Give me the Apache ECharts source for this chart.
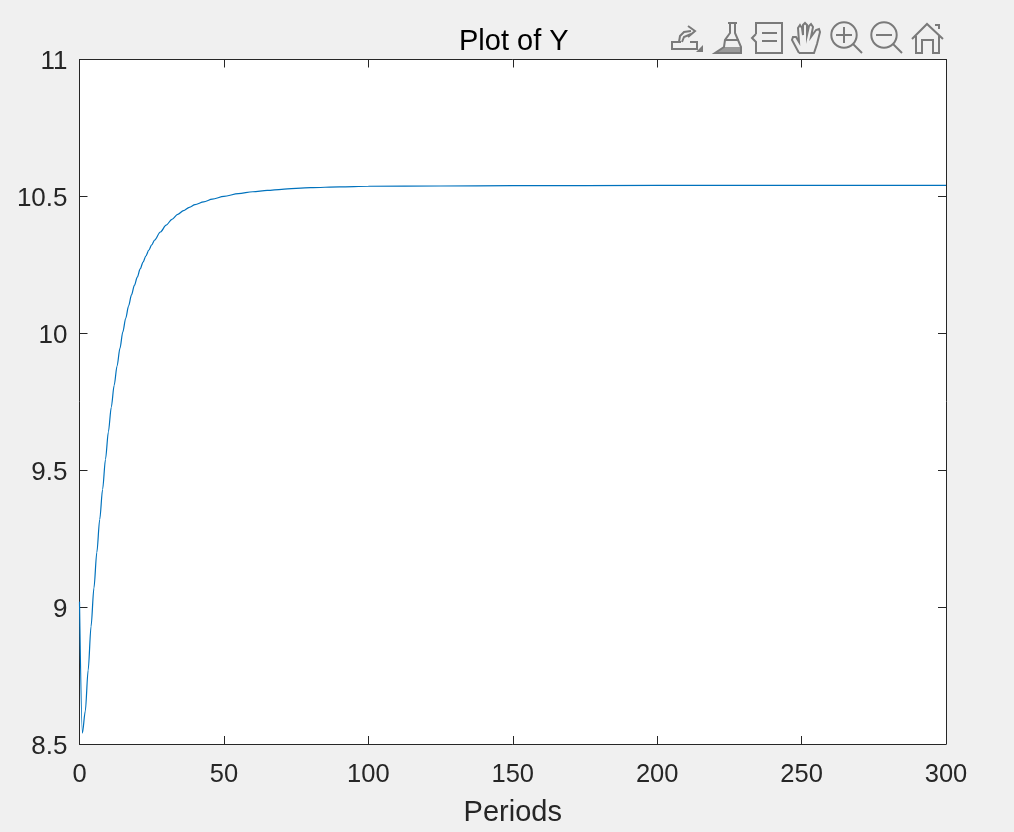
<!DOCTYPE html>
<html>
<head>
<meta charset="utf-8">
<style>html,body{margin:0;padding:0;background:#f0f0f0}#c{width:1014px;height:832px}</style>
<script src="https://cdn.jsdelivr.net/npm/echarts@6/dist/echarts.min.js"></script>
</head>
<body>
<div id="c"></div>
<script>
const periods = [0,1,2,3,4,5,6,7,8,9,10,11,12,13,14,15,16,17,18,19,20,21,22,23,24,25,26,28,30,32,34,36,38,40,43,46,50,55,60,65,70,80,90,100,125,150,200,300];
const yValues = [9.02,8.54,8.62,8.77,8.93,9.07,9.2,9.32,9.43,9.54,9.64,9.73,9.81,9.88,9.945,10.005,10.055,10.10,10.14,10.175,10.205,10.235,10.26,10.283,10.304,10.323,10.34,10.37,10.395,10.416,10.434,10.448,10.46,10.47,10.48,10.49,10.50,10.51,10.517,10.522,10.526,10.532,10.535,10.537,10.538,10.539,10.54,10.54];
const titleText = 'Plot of Y';
const xLabel = 'Periods';

const ink = '#262626', font = '"Liberation Sans", Arial, sans-serif';
const chart = echarts.init(document.getElementById('c'), null, {renderer:'canvas'});

const iconStyle = {fill:'none', stroke:'#7a7a7a', lineWidth:2};
const lines = [
 [[681,42],[672,42],[672,49],[697,49],[697,42],[690,42]],
 [[679,42],[680,36],[684,32],[691,31]],[[682,42],[684,37],[691,34]],[[688,26],[695,31],[688,37]],
 [[728,23],[737,23]],[[730,23],[730,33],[725,40],[724,47],[715,53],[741,53],[741,47],[735,33],[735,23]],[[725,40],[739,40]],
 [[756,34],[756,23],[782,23],[782,53],[756,53],[756,42],[752,38],[756,34]],[[762,33],[777,33]],[[762,41],[777,41]],
 [[799,53],[792,40],[793,37],[796,37],[799,42],[798,28],[800,25],[802,28],[803,35],[803,25],[805,23],[807,25],[807,35],[809,26],[811,24],[813,27],[811,37],[816,30],[819,29],[820,32],[817,44],[814,53],[799,53]],
 [[853,44],[862,53]],[[836,35],[852,35]],[[844,27],[844,43]],
 [[893,44],[902,53]],[[876,35],[892,35]],
 [[912,39],[927,24],[943,39]],[[916,36],[916,53],[922,53],[922,40],[933,40],[933,53],[939,53],[939,36]],[[935,25],[939,25],[939,29]]
];
const rings = [[844,35],[884,35]];

chart.setOption({
  animation:false,
  backgroundColor:'#f0f0f0',
  title:{text:titleText,left:454,top:22,
    textStyle:{fontFamily:font,fontSize:29,fontWeight:'normal',color:'#000'}},
  grid:{left:79.5,right:68,top:59.5,bottom:88,containLabel:false,show:true,backgroundColor:'#fff',borderWidth:0},
  xAxis:[
   {type:'value',min:0,max:300,interval:50,name:xLabel,nameLocation:'middle',nameGap:54,
    nameTextStyle:{fontFamily:font,fontSize:29,color:ink},
    axisLine:{show:true,onZero:false,lineStyle:{color:ink,width:1}},
    axisTick:{inside:true,length:8,lineStyle:{color:ink}},
    axisLabel:{fontFamily:font,fontSize:25.5,color:ink,margin:18,showMinLabel:true,showMaxLabel:true},
    splitLine:{show:false}},
   {type:'value',position:'top',min:0,max:300,interval:50,
    axisLine:{show:true,onZero:false,lineStyle:{color:ink,width:1}},
    axisTick:{inside:true,length:8,lineStyle:{color:ink}},
    axisLabel:{show:false},splitLine:{show:false}}
  ],
  yAxis:[
   {type:'value',min:8.5,max:11,interval:0.5,
    axisLine:{show:true,onZero:false,lineStyle:{color:ink,width:1}},
    axisTick:{inside:true,length:8,lineStyle:{color:ink}},
    axisLabel:{fontFamily:font,fontSize:26,color:ink,margin:12,showMinLabel:true,showMaxLabel:true,
      verticalAlign:'top',lineHeight:5,formatter:v=>String(v)},
    splitLine:{show:false}},
   {type:'value',position:'right',min:8.5,max:11,interval:0.5,
    axisLine:{show:true,onZero:false,lineStyle:{color:ink,width:1}},
    axisTick:{inside:true,length:8,lineStyle:{color:ink}},
    axisLabel:{show:false},splitLine:{show:false}}
  ],
  series:[{type:'line',showSymbol:false,symbol:'none',smooth:0.3,smoothMonotone:'x',clip:false,
    lineStyle:{color:'#0072BD',width:1.2},
    data:periods.map((p,i)=>[p,yValues[i]])}],
  graphic:{elements:lines.map(p=>({type:'polyline',shape:{points:p},style:iconStyle,silent:true,z:10}))
    .concat(rings.map(c=>({type:'circle',shape:{cx:c[0],cy:c[1],r:12.7},style:iconStyle,silent:true,z:10})))
    .concat([{type:'polygon',shape:{points:[[703,45],[703,52],[696,52]]},style:{fill:'#7a7a7a'},silent:true,z:10},
             {type:'polygon',shape:{points:[[715,53],[741,53],[741,47],[724,47]]},style:{fill:'#9a9a9a'},silent:true,z:9}])}
});
</script>
</body>
</html>
